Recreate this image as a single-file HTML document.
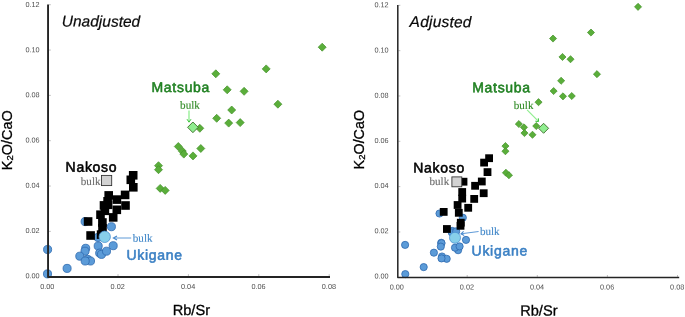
<!DOCTYPE html>
<html><head><meta charset="utf-8"><title>Rb/Sr vs K2O/CaO</title>
<style>
html,body{margin:0;padding:0;background:#fff;}
svg{display:block;will-change:transform;filter:blur(0.35px);}
text{font-family:"Liberation Sans",sans-serif;}
.tk{font-size:7.3px;fill:#505050;}
.ax{font-size:14.6px;fill:#000;stroke:#000;stroke-width:0.3px;}
.ttl{font-size:15.5px;font-style:italic;fill:#0a0a0a;stroke:#0a0a0a;stroke-width:0.22px;}
.grp{font-size:14px;font-weight:normal;stroke-width:0.55px;letter-spacing:0.7px;paint-order:stroke;stroke-linejoin:round;}
.bulk{font-family:"Liberation Serif",serif;font-size:11.1px;stroke-width:0.12;}
</style></head><body>
<svg width="685" height="317" viewBox="0 0 685 317">
<rect width="685" height="317" fill="#fff"/>

<circle cx="85.1" cy="221.6" r="4.05" fill="#5b9bd8" stroke="#2f6aae" stroke-width="0.8"/>
<circle cx="111.4" cy="226.7" r="4.05" fill="#5b9bd8" stroke="#2f6aae" stroke-width="0.8"/>
<circle cx="98.0" cy="237.4" r="4.05" fill="#5b9bd8" stroke="#2f6aae" stroke-width="0.8"/>
<circle cx="113.2" cy="245.7" r="4.05" fill="#5b9bd8" stroke="#2f6aae" stroke-width="0.8"/>
<circle cx="98.2" cy="246.0" r="4.05" fill="#5b9bd8" stroke="#2f6aae" stroke-width="0.8"/>
<circle cx="85.7" cy="248.3" r="4.05" fill="#5b9bd8" stroke="#2f6aae" stroke-width="0.8"/>
<circle cx="85.0" cy="251.2" r="4.05" fill="#5b9bd8" stroke="#2f6aae" stroke-width="0.8"/>
<circle cx="79.8" cy="256.2" r="4.05" fill="#5b9bd8" stroke="#2f6aae" stroke-width="0.8"/>
<circle cx="87.7" cy="259.4" r="4.05" fill="#5b9bd8" stroke="#2f6aae" stroke-width="0.8"/>
<circle cx="90.5" cy="261.0" r="4.05" fill="#5b9bd8" stroke="#2f6aae" stroke-width="0.8"/>
<circle cx="85.2" cy="261.0" r="4.05" fill="#5b9bd8" stroke="#2f6aae" stroke-width="0.8"/>
<circle cx="99.7" cy="253.1" r="4.05" fill="#5b9bd8" stroke="#2f6aae" stroke-width="0.8"/>
<circle cx="101.5" cy="254.4" r="4.05" fill="#5b9bd8" stroke="#2f6aae" stroke-width="0.8"/>
<circle cx="106.5" cy="251.2" r="4.05" fill="#5b9bd8" stroke="#2f6aae" stroke-width="0.8"/>
<circle cx="47.6" cy="249.5" r="4.05" fill="#5b9bd8" stroke="#2f6aae" stroke-width="0.8"/>
<circle cx="47.5" cy="273.9" r="4.05" fill="#5b9bd8" stroke="#2f6aae" stroke-width="0.8"/>
<circle cx="67.1" cy="268.4" r="4.05" fill="#5b9bd8" stroke="#2f6aae" stroke-width="0.8"/>
<line x1="48.90" y1="231.37" x2="50.80" y2="231.37" stroke="#8a8a8a" stroke-width="0.55"/>
<line x1="48.90" y1="186.04" x2="50.80" y2="186.04" stroke="#8a8a8a" stroke-width="0.55"/>
<line x1="48.90" y1="140.71" x2="50.80" y2="140.71" stroke="#8a8a8a" stroke-width="0.55"/>
<line x1="48.90" y1="95.38" x2="50.80" y2="95.38" stroke="#8a8a8a" stroke-width="0.55"/>
<line x1="48.90" y1="50.05" x2="50.80" y2="50.05" stroke="#8a8a8a" stroke-width="0.55"/>
<line x1="48.90" y1="4.72" x2="50.80" y2="4.72" stroke="#8a8a8a" stroke-width="0.55"/>
<line x1="118.00" y1="276.10" x2="118.00" y2="274.20" stroke="#8a8a8a" stroke-width="0.55"/>
<line x1="188.40" y1="276.10" x2="188.40" y2="274.20" stroke="#8a8a8a" stroke-width="0.55"/>
<line x1="258.80" y1="276.10" x2="258.80" y2="274.20" stroke="#8a8a8a" stroke-width="0.55"/>
<line x1="329.20" y1="276.10" x2="329.20" y2="274.20" stroke="#8a8a8a" stroke-width="0.55"/>
<path d="M48.05 4.40V276.95H330.00" fill="none" stroke="#242424" stroke-width="1.9" stroke-linejoin="round"/>
<text class="tk" transform="translate(39.65 278.15) rotate(0.04)" text-anchor="end">0.00</text>
<text class="tk" transform="translate(39.65 232.95) rotate(0.04)" text-anchor="end">0.02</text>
<text class="tk" transform="translate(39.65 187.75) rotate(0.04)" text-anchor="end">0.04</text>
<text class="tk" transform="translate(39.65 142.55) rotate(0.04)" text-anchor="end">0.06</text>
<text class="tk" transform="translate(39.65 97.35) rotate(0.04)" text-anchor="end">0.08</text>
<text class="tk" transform="translate(39.65 52.15) rotate(0.04)" text-anchor="end">0.10</text>
<text class="tk" transform="translate(39.65 6.95) rotate(0.04)" text-anchor="end">0.12</text>
<text class="tk" transform="translate(47.30 288.95) rotate(0.04)" text-anchor="middle">0.00</text>
<text class="tk" transform="translate(117.70 288.95) rotate(0.04)" text-anchor="middle">0.02</text>
<text class="tk" transform="translate(188.10 288.95) rotate(0.04)" text-anchor="middle">0.04</text>
<text class="tk" transform="translate(258.50 288.95) rotate(0.04)" text-anchor="middle">0.06</text>
<text class="tk" transform="translate(328.90 288.95) rotate(0.04)" text-anchor="middle">0.08</text>
<rect x="128.9" y="171.0" width="8.6" height="8.6" fill="#000" stroke="none" stroke-width="0"/>
<rect x="126.5" y="175.5" width="8.6" height="8.6" fill="#000" stroke="none" stroke-width="0"/>
<rect x="129.0" y="183.0" width="8.6" height="8.6" fill="#000" stroke="none" stroke-width="0"/>
<rect x="120.8" y="190.6" width="8.6" height="8.6" fill="#000" stroke="none" stroke-width="0"/>
<rect x="104.4" y="191.1" width="8.6" height="8.6" fill="#000" stroke="none" stroke-width="0"/>
<rect x="112.6" y="195.3" width="8.6" height="8.6" fill="#000" stroke="none" stroke-width="0"/>
<rect x="121.2" y="201.2" width="8.6" height="8.6" fill="#000" stroke="none" stroke-width="0"/>
<rect x="99.7" y="201.1" width="8.6" height="8.6" fill="#000" stroke="none" stroke-width="0"/>
<rect x="103.8" y="200.5" width="8.6" height="8.6" fill="#000" stroke="none" stroke-width="0"/>
<rect x="103.3" y="197.0" width="8.6" height="8.6" fill="#000" stroke="none" stroke-width="0"/>
<rect x="112.5" y="205.5" width="8.6" height="8.6" fill="#000" stroke="none" stroke-width="0"/>
<rect x="108.9" y="213.1" width="8.6" height="8.6" fill="#000" stroke="none" stroke-width="0"/>
<rect x="96.2" y="210.4" width="8.6" height="8.6" fill="#000" stroke="none" stroke-width="0"/>
<rect x="100.6" y="206.5" width="8.6" height="8.6" fill="#000" stroke="none" stroke-width="0"/>
<rect x="98.1" y="218.2" width="8.6" height="8.6" fill="#000" stroke="none" stroke-width="0"/>
<rect x="98.2" y="224.0" width="8.6" height="8.6" fill="#000" stroke="none" stroke-width="0"/>
<rect x="83.8" y="217.2" width="8.6" height="8.6" fill="#000" stroke="none" stroke-width="0"/>
<rect x="86.3" y="231.2" width="8.6" height="8.6" fill="#000" stroke="none" stroke-width="0"/>
<rect x="96.8" y="230.3" width="8.6" height="8.6" fill="#000" stroke="none" stroke-width="0"/>
<path d="M215.8 69.8L219.8 73.8L215.8 77.8L211.8 73.8Z" fill="#5aae3a" stroke="#43902a" stroke-width="0.7"/>
<path d="M266.2 64.9L270.2 68.9L266.2 72.9L262.2 68.9Z" fill="#5aae3a" stroke="#43902a" stroke-width="0.7"/>
<path d="M322.2 43.2L326.2 47.2L322.2 51.2L318.2 47.2Z" fill="#5aae3a" stroke="#43902a" stroke-width="0.7"/>
<path d="M227.2 85.8L231.2 89.8L227.2 93.8L223.2 89.8Z" fill="#5aae3a" stroke="#43902a" stroke-width="0.7"/>
<path d="M244.1 87.3L248.1 91.3L244.1 95.3L240.1 91.3Z" fill="#5aae3a" stroke="#43902a" stroke-width="0.7"/>
<path d="M277.9 100.2L281.9 104.2L277.9 108.2L273.9 104.2Z" fill="#5aae3a" stroke="#43902a" stroke-width="0.7"/>
<path d="M231.7 106.0L235.7 110.0L231.7 114.0L227.7 110.0Z" fill="#5aae3a" stroke="#43902a" stroke-width="0.7"/>
<path d="M216.7 114.3L220.7 118.3L216.7 122.3L212.7 118.3Z" fill="#5aae3a" stroke="#43902a" stroke-width="0.7"/>
<path d="M228.7 119.1L232.7 123.1L228.7 127.1L224.7 123.1Z" fill="#5aae3a" stroke="#43902a" stroke-width="0.7"/>
<path d="M240.2 118.6L244.2 122.6L240.2 126.6L236.2 122.6Z" fill="#5aae3a" stroke="#43902a" stroke-width="0.7"/>
<path d="M199.8 124.3L203.8 128.3L199.8 132.3L195.8 128.3Z" fill="#5aae3a" stroke="#43902a" stroke-width="0.7"/>
<path d="M178.3 142.5L182.3 146.5L178.3 150.5L174.3 146.5Z" fill="#5aae3a" stroke="#43902a" stroke-width="0.7"/>
<path d="M182.3 147.1L186.3 151.1L182.3 155.1L178.3 151.1Z" fill="#5aae3a" stroke="#43902a" stroke-width="0.7"/>
<path d="M183.8 150.1L187.8 154.1L183.8 158.1L179.8 154.1Z" fill="#5aae3a" stroke="#43902a" stroke-width="0.7"/>
<path d="M193.0 151.9L197.0 155.9L193.0 159.9L189.0 155.9Z" fill="#5aae3a" stroke="#43902a" stroke-width="0.7"/>
<path d="M200.8 144.5L204.8 148.5L200.8 152.5L196.8 148.5Z" fill="#5aae3a" stroke="#43902a" stroke-width="0.7"/>
<path d="M158.5 161.7L162.5 165.7L158.5 169.7L154.5 165.7Z" fill="#5aae3a" stroke="#43902a" stroke-width="0.7"/>
<path d="M158.5 165.7L162.5 169.7L158.5 173.7L154.5 169.7Z" fill="#5aae3a" stroke="#43902a" stroke-width="0.7"/>
<path d="M160.2 184.4L164.2 188.4L160.2 192.4L156.2 188.4Z" fill="#5aae3a" stroke="#43902a" stroke-width="0.7"/>
<path d="M165.2 186.4L169.2 190.4L165.2 194.4L161.2 190.4Z" fill="#5aae3a" stroke="#43902a" stroke-width="0.7"/>
<rect x="101.5" y="175.4" width="10.2" height="10.2" fill="#d2d2d2" stroke="#2e2e2e" stroke-width="0.85"/>
<circle cx="104.7" cy="236.8" r="5.7" fill="#87cfea" stroke="#4a90d2" stroke-width="0.8"/>
<path d="M192.9 122.0L198.2 127.3L192.9 132.7L187.6 127.3Z" fill="#90ee90" stroke="#3d6b2a" stroke-width="0.9"/>
<text class="ttl" transform="translate(61.8 26.6) rotate(0.04)">Unadjusted</text>
<text class="grp" transform="translate(151.5 91.9) rotate(0.04)" fill="#208122" stroke="#208122" letter-spacing="0.98">Matsuba</text>
<text class="grp" transform="translate(65.6 171.7) rotate(0.04)" fill="#000" stroke="#000">Nakoso</text>
<text class="grp" transform="translate(126.4 259.7) rotate(0.04)" fill="#3b80c4" stroke="#3b80c4">Ukigane</text>
<text class="bulk" transform="translate(180.1 108.8) rotate(0.04)" fill="#2f8a24" stroke="#2f8a24">bulk</text>
<text class="bulk" transform="translate(80.8 185.0) rotate(0.04)" fill="#6a6a6a" stroke="#6a6a6a">bulk</text>
<text class="bulk" transform="translate(132.8 241.7) rotate(0.04)" fill="#3f86c8" stroke="#3f86c8">bulk</text>
<path d="M189.0 110.6V121.0" stroke="#90ee90" stroke-width="1.3" fill="none"/>
<path d="M187.0 119.2L189.0 122.2L191.0 119.2" stroke="#3fc43f" stroke-width="1" fill="none"/>
<path d="M131.2 238.0H114.2" stroke="#4d8ed2" stroke-width="0.9" fill="none"/>
<path d="M117.0 236.1L113.4 238.0L117.0 239.9" stroke="#4587cc" stroke-width="1.1" fill="none"/>
<text class="ax" transform="translate(172.7 315.0) rotate(0.04)">Rb/Sr</text>
<text class="ax" transform="translate(12.3 170.2) rotate(-90)" style="font-size:14.45px">K<tspan font-size="9.5px" dy="0.8">2</tspan><tspan dy="-0.8">O/CaO</tspan></text>
<circle cx="439.5" cy="213.5" r="3.6" fill="#5b9bd8" stroke="#2f6aae" stroke-width="0.8"/>
<circle cx="462.8" cy="217.7" r="3.6" fill="#5b9bd8" stroke="#2f6aae" stroke-width="0.8"/>
<circle cx="452.2" cy="230.9" r="3.6" fill="#5b9bd8" stroke="#2f6aae" stroke-width="0.8"/>
<circle cx="451.8" cy="232.5" r="3.6" fill="#5b9bd8" stroke="#2f6aae" stroke-width="0.8"/>
<circle cx="456.2" cy="231.3" r="3.6" fill="#5b9bd8" stroke="#2f6aae" stroke-width="0.8"/>
<circle cx="466.0" cy="239.9" r="3.6" fill="#5b9bd8" stroke="#2f6aae" stroke-width="0.8"/>
<circle cx="441.2" cy="242.8" r="3.6" fill="#5b9bd8" stroke="#2f6aae" stroke-width="0.8"/>
<circle cx="405.1" cy="244.9" r="3.6" fill="#5b9bd8" stroke="#2f6aae" stroke-width="0.8"/>
<circle cx="441.5" cy="243.2" r="3.6" fill="#5b9bd8" stroke="#2f6aae" stroke-width="0.8"/>
<circle cx="440.8" cy="246.6" r="3.6" fill="#5b9bd8" stroke="#2f6aae" stroke-width="0.8"/>
<circle cx="433.9" cy="252.7" r="3.6" fill="#5b9bd8" stroke="#2f6aae" stroke-width="0.8"/>
<circle cx="442.0" cy="256.5" r="3.6" fill="#5b9bd8" stroke="#2f6aae" stroke-width="0.8"/>
<circle cx="446.7" cy="258.8" r="3.6" fill="#5b9bd8" stroke="#2f6aae" stroke-width="0.8"/>
<circle cx="441.5" cy="258.4" r="3.6" fill="#5b9bd8" stroke="#2f6aae" stroke-width="0.8"/>
<circle cx="423.7" cy="267.1" r="3.6" fill="#5b9bd8" stroke="#2f6aae" stroke-width="0.8"/>
<circle cx="458.1" cy="250.2" r="3.6" fill="#5b9bd8" stroke="#2f6aae" stroke-width="0.8"/>
<circle cx="455.0" cy="247.7" r="3.6" fill="#5b9bd8" stroke="#2f6aae" stroke-width="0.8"/>
<circle cx="459.6" cy="246.4" r="3.6" fill="#5b9bd8" stroke="#2f6aae" stroke-width="0.8"/>
<circle cx="405.3" cy="274.1" r="3.6" fill="#5b9bd8" stroke="#2f6aae" stroke-width="0.8"/>
<line x1="398.45" y1="231.97" x2="400.35" y2="231.97" stroke="#8a8a8a" stroke-width="0.55"/>
<line x1="398.45" y1="186.64" x2="400.35" y2="186.64" stroke="#8a8a8a" stroke-width="0.55"/>
<line x1="398.45" y1="141.31" x2="400.35" y2="141.31" stroke="#8a8a8a" stroke-width="0.55"/>
<line x1="398.45" y1="95.98" x2="400.35" y2="95.98" stroke="#8a8a8a" stroke-width="0.55"/>
<line x1="398.45" y1="50.65" x2="400.35" y2="50.65" stroke="#8a8a8a" stroke-width="0.55"/>
<line x1="398.45" y1="5.32" x2="400.35" y2="5.32" stroke="#8a8a8a" stroke-width="0.55"/>
<line x1="467.20" y1="276.90" x2="467.20" y2="275.00" stroke="#8a8a8a" stroke-width="0.55"/>
<line x1="537.30" y1="276.90" x2="537.30" y2="275.00" stroke="#8a8a8a" stroke-width="0.55"/>
<line x1="607.40" y1="276.90" x2="607.40" y2="275.00" stroke="#8a8a8a" stroke-width="0.55"/>
<line x1="677.50" y1="276.90" x2="677.50" y2="275.00" stroke="#8a8a8a" stroke-width="0.55"/>
<path d="M397.80 5.00V277.55H679.20" fill="none" stroke="#242424" stroke-width="1.5" stroke-linejoin="round"/>
<text class="tk" transform="translate(388.60 278.50) rotate(0.04)" text-anchor="end">0.00</text>
<text class="tk" transform="translate(388.60 233.30) rotate(0.04)" text-anchor="end">0.02</text>
<text class="tk" transform="translate(388.60 188.10) rotate(0.04)" text-anchor="end">0.04</text>
<text class="tk" transform="translate(388.60 142.90) rotate(0.04)" text-anchor="end">0.06</text>
<text class="tk" transform="translate(388.60 97.70) rotate(0.04)" text-anchor="end">0.08</text>
<text class="tk" transform="translate(388.60 52.50) rotate(0.04)" text-anchor="end">0.10</text>
<text class="tk" transform="translate(388.60 7.30) rotate(0.04)" text-anchor="end">0.12</text>
<text class="tk" transform="translate(396.80 289.55) rotate(0.04)" text-anchor="middle">0.00</text>
<text class="tk" transform="translate(466.90 289.55) rotate(0.04)" text-anchor="middle">0.02</text>
<text class="tk" transform="translate(537.00 289.55) rotate(0.04)" text-anchor="middle">0.04</text>
<text class="tk" transform="translate(607.10 289.55) rotate(0.04)" text-anchor="middle">0.06</text>
<text class="tk" transform="translate(677.20 289.55) rotate(0.04)" text-anchor="middle">0.08</text>
<rect x="485.2" y="154.3" width="7.8" height="7.8" fill="#000" stroke="none" stroke-width="0"/>
<rect x="480.2" y="158.7" width="7.8" height="7.8" fill="#000" stroke="none" stroke-width="0"/>
<rect x="483.6" y="168.2" width="7.8" height="7.8" fill="#000" stroke="none" stroke-width="0"/>
<rect x="477.9" y="177.6" width="7.8" height="7.8" fill="#000" stroke="none" stroke-width="0"/>
<rect x="471.2" y="181.9" width="7.8" height="7.8" fill="#000" stroke="none" stroke-width="0"/>
<rect x="459.6" y="177.8" width="7.8" height="7.8" fill="#000" stroke="none" stroke-width="0"/>
<rect x="479.8" y="189.3" width="7.8" height="7.8" fill="#000" stroke="none" stroke-width="0"/>
<rect x="470.3" y="195.0" width="7.8" height="7.8" fill="#000" stroke="none" stroke-width="0"/>
<rect x="458.3" y="188.1" width="7.8" height="7.8" fill="#000" stroke="none" stroke-width="0"/>
<rect x="458.3" y="194.7" width="7.8" height="7.8" fill="#000" stroke="none" stroke-width="0"/>
<rect x="453.7" y="201.1" width="7.8" height="7.8" fill="#000" stroke="none" stroke-width="0"/>
<rect x="464.3" y="203.9" width="7.8" height="7.8" fill="#000" stroke="none" stroke-width="0"/>
<rect x="454.9" y="208.9" width="7.8" height="7.8" fill="#000" stroke="none" stroke-width="0"/>
<rect x="439.8" y="208.0" width="7.8" height="7.8" fill="#000" stroke="none" stroke-width="0"/>
<rect x="456.9" y="218.8" width="7.8" height="7.8" fill="#000" stroke="none" stroke-width="0"/>
<rect x="456.6" y="221.9" width="7.8" height="7.8" fill="#000" stroke="none" stroke-width="0"/>
<rect x="443.0" y="225.1" width="7.8" height="7.8" fill="#000" stroke="none" stroke-width="0"/>
<path d="M638.0 3.3L641.6 6.8L638.0 10.4L634.5 6.8Z" fill="#5aae3a" stroke="#43902a" stroke-width="0.7"/>
<path d="M591.0 29.0L594.5 32.5L591.0 36.1L587.4 32.5Z" fill="#5aae3a" stroke="#43902a" stroke-width="0.7"/>
<path d="M553.0 35.0L556.6 38.5L553.0 42.1L549.5 38.5Z" fill="#5aae3a" stroke="#43902a" stroke-width="0.7"/>
<path d="M562.5 53.4L566.0 57.0L562.5 60.5L558.9 57.0Z" fill="#5aae3a" stroke="#43902a" stroke-width="0.7"/>
<path d="M570.5 55.7L574.1 59.2L570.5 62.8L567.0 59.2Z" fill="#5aae3a" stroke="#43902a" stroke-width="0.7"/>
<path d="M597.0 70.6L600.5 74.2L597.0 77.7L593.4 74.2Z" fill="#5aae3a" stroke="#43902a" stroke-width="0.7"/>
<path d="M561.1 77.2L564.7 80.8L561.1 84.3L557.6 80.8Z" fill="#5aae3a" stroke="#43902a" stroke-width="0.7"/>
<path d="M553.6 87.5L557.2 91.0L553.6 94.6L550.1 91.0Z" fill="#5aae3a" stroke="#43902a" stroke-width="0.7"/>
<path d="M563.0 92.8L566.5 96.3L563.0 99.9L559.4 96.3Z" fill="#5aae3a" stroke="#43902a" stroke-width="0.7"/>
<path d="M571.8 92.5L575.3 96.0L571.8 99.6L568.2 96.0Z" fill="#5aae3a" stroke="#43902a" stroke-width="0.7"/>
<path d="M538.5 98.6L542.1 102.2L538.5 105.7L535.0 102.2Z" fill="#5aae3a" stroke="#43902a" stroke-width="0.7"/>
<path d="M518.9 120.5L522.4 124.0L518.9 127.6L515.3 124.0Z" fill="#5aae3a" stroke="#43902a" stroke-width="0.7"/>
<path d="M524.0 123.8L527.5 127.3L524.0 130.9L520.4 127.3Z" fill="#5aae3a" stroke="#43902a" stroke-width="0.7"/>
<path d="M536.2 122.5L539.8 126.0L536.2 129.6L532.7 126.0Z" fill="#5aae3a" stroke="#43902a" stroke-width="0.7"/>
<path d="M524.5 129.5L528.0 133.1L524.5 136.6L520.9 133.1Z" fill="#5aae3a" stroke="#43902a" stroke-width="0.7"/>
<path d="M532.5 131.2L536.0 134.8L532.5 138.3L528.9 134.8Z" fill="#5aae3a" stroke="#43902a" stroke-width="0.7"/>
<path d="M505.4 142.5L509.0 146.1L505.4 149.6L501.9 146.1Z" fill="#5aae3a" stroke="#43902a" stroke-width="0.7"/>
<path d="M505.4 147.7L509.0 151.2L505.4 154.8L501.9 151.2Z" fill="#5aae3a" stroke="#43902a" stroke-width="0.7"/>
<path d="M505.9 169.2L509.5 172.8L505.9 176.3L502.4 172.8Z" fill="#5aae3a" stroke="#43902a" stroke-width="0.7"/>
<path d="M508.9 171.7L512.5 175.2L508.9 178.8L505.4 175.2Z" fill="#5aae3a" stroke="#43902a" stroke-width="0.7"/>
<rect x="451.9" y="176.9" width="9.9" height="9.9" fill="#d2d2d2" stroke="#2e2e2e" stroke-width="0.85"/>
<circle cx="455.0" cy="237.8" r="5.5" fill="#87cfea" stroke="#4a90d2" stroke-width="0.8"/>
<path d="M543.6 123.3L548.6 128.3L543.6 133.3L538.6 128.3Z" fill="#90ee90" stroke="#3d6b2a" stroke-width="0.9"/>
<text class="ttl" transform="translate(409.6 27.1) rotate(0.04)" letter-spacing="0.22">Adjusted</text>
<text class="grp" transform="translate(472.2 92.3) rotate(0.04)" fill="#208122" stroke="#208122" letter-spacing="0.98">Matsuba</text>
<text class="grp" transform="translate(413.2 172.5) rotate(0.04)" fill="#000" stroke="#000">Nakoso</text>
<text class="grp" transform="translate(471.6 255.4) rotate(0.04)" fill="#3b80c4" stroke="#3b80c4">Ukigane</text>
<text class="bulk" transform="translate(513.7 108.9) rotate(0.04)" fill="#2f8a24" stroke="#2f8a24">bulk</text>
<text class="bulk" transform="translate(429.5 185.1) rotate(0.04)" fill="#6a6a6a" stroke="#6a6a6a">bulk</text>
<text class="bulk" transform="translate(479.9 235.0) rotate(0.04)" fill="#3f86c8" stroke="#3f86c8">bulk</text>
<path d="M527.1 109.9L538.0 120.9" stroke="#90ee90" stroke-width="1.2" fill="none"/>
<path d="M535.3 121.2L538.6 121.6L538.3 118.3" stroke="#3fc43f" stroke-width="1" fill="none"/>
<path d="M478.6 231.5L461.8 233.7" stroke="#4d8ed2" stroke-width="0.9" fill="none"/>
<path d="M463.6 231.4L461.0 233.8L464.2 235.4" stroke="#4587cc" stroke-width="1.1" fill="none"/>
<text class="ax" transform="translate(520.2 315.5) rotate(0.04)">Rb/Sr</text>
<text class="ax" transform="translate(364.1 169.4) rotate(-90)" style="font-size:14.35px">K<tspan font-size="9.5px" dy="0.8">2</tspan><tspan dy="-0.8">O/CaO</tspan></text>
</svg></body></html>
